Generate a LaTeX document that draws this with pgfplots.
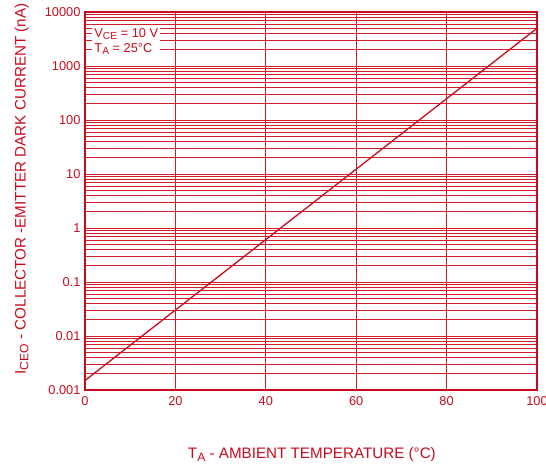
\documentclass[border=0pt]{standalone}
\usepackage{pgfplots}
\pgfplotsset{compat=1.18}
\usepackage{fontspec}
\setmainfont{Liberation Sans}
\definecolor{dsred}{RGB}{200,10,30}
\definecolor{gridred}{RGB}{208,30,45}
\newcommand{\sub}[1]{\raisebox{-0.35ex}{\scalebox{0.8}{#1}}}
\pgfplotstableread{
x y
0 0.0015
100 5000
}\curve
\begin{document}
\begin{tikzpicture}[x=1pt,y=1pt]
\begin{axis}[
  scale only axis,
  width=452pt, height=378pt,
  xmin=0, xmax=100,
  ymode=log, ymin=0.001, ymax=10000,
  xtick={0,20,40,60,80,100},
  ytick={0.001,0.01,0.1,1,10,100,1000,10000},
  yticklabels={0.001,0.01,0.1,1,10,100,1000,10000},
  minor ytick={0.002,0.003,0.004,0.005,0.006,0.007,0.008,0.009,
    0.02,0.03,0.04,0.05,0.06,0.07,0.08,0.09,
    0.2,0.3,0.4,0.5,0.6,0.7,0.8,0.9,
    2,3,4,5,6,7,8,9,20,30,40,50,60,70,80,90,
    200,300,400,500,600,700,800,900,2000,3000,4000,5000,6000,7000,8000,9000},
  major tick length=0pt, minor tick length=0pt,
  grid=both,
  major grid style={gridred, line width=0.75pt},
  minor grid style={gridred, line width=0.65pt},
  axis line style={dsred, line width=1.4pt},
  tick label style={font=\fontsize{12.8}{14}\selectfont, text=dsred},
  /pgf/number format/assume math mode=true,
  xticklabel style={yshift=-3pt},
  yticklabel style={xshift=-1pt},
  xlabel={T\sub{A} - AMBIENT TEMPERATURE (°C)},
  ylabel={I\sub{CEO} - COLLECTOR -EMITTER DARK CURRENT (nA)},
  label style={font=\fontsize{15.2}{17}\selectfont, text=dsred},
  xlabel style={at={(axis description cs:0.502,-0.17)}, anchor=center},
  ylabel style={at={(axis description cs:-0.14,0.532)}, anchor=center},
  clip=true,
]
\addplot[dsred, line width=1.3pt, no marks] table[x=x,y=y] {\curve};
\node[anchor=north west, fill=white, inner sep=2pt, align=left, text=dsred,
  font=\fontsize{12.8}{15}\selectfont]
  at (rel axis cs:0.016,0.962) {V\sub{CE} = 10 V\\T\sub{A} = 25°C};
\end{axis}
\pgfresetboundingbox
\useasboundingbox (-85,-79) rectangle (461,390);
\end{tikzpicture}
\end{document}
